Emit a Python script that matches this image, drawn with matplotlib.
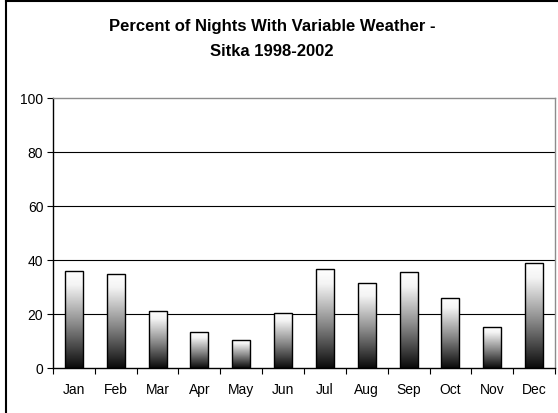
import numpy as np
import matplotlib
matplotlib.use("Agg")
import matplotlib.pyplot as plt
from matplotlib.colors import LinearSegmentedColormap

months = ["Jan", "Feb", "Mar", "Apr", "May", "Jun",
          "Jul", "Aug", "Sep", "Oct", "Nov", "Dec"]
percent = [36.0, 34.9, 21.2, 13.2, 10.5, 20.5,
           36.5, 31.4, 35.4, 26.0, 15.3, 38.9]
yticks = [0, 20, 40, 60, 80, 100]

plt.rcParams['font.family'] = ['Liberation Sans', 'DejaVu Sans']

fig = plt.figure(figsize=(5.58, 4.14), dpi=100)
ax = fig.add_axes([53 / 558, 1 - 369 / 414, (555 - 53) / 558, (369 - 99) / 414])

# outer chart border (left and top visible only)
fig.add_artist(plt.Line2D([6 / 558, 6 / 558], [0, 1 - 2 / 414], color="black", lw=1.5,
                          transform=fig.transFigure))
fig.add_artist(plt.Line2D([6 / 558, 1], [1 - 2 / 414, 1 - 2 / 414], color="black", lw=1.5,
                          transform=fig.transFigure))

cmap = LinearSegmentedColormap.from_list("bw", [(0, "#0a0a0a"), (0.45, "#8a8a8a"),
                                                (0.85, "#f4f4f4"), (1, "#ffffff")])
grad = np.linspace(0, 1, 256).reshape(-1, 1)

x = np.arange(len(months))
width = 0.43
bars = ax.bar(x, percent, width=width, facecolor="none", edgecolor="black",
              linewidth=1.0, zorder=3)
for b in bars:
    x0, h = b.get_x(), b.get_height()
    ax.imshow(grad, extent=(x0, x0 + width, 0, h), origin="lower",
              aspect="auto", cmap=cmap, zorder=2)

ax.set_xlim(-0.5, len(months) - 0.5)
ax.set_ylim(0, 100)
ax.set_yticks(yticks)
ax.tick_params(axis="y", length=4, width=0.8, labelsize=10, pad=3)

ax.set_xticks(x)
ax.set_xticklabels(months, fontsize=10)
ax.tick_params(axis="x", length=0, pad=10)
ax.set_xticks(np.arange(-0.5, len(months)), minor=True)
ax.tick_params(axis="x", which="minor", length=4, width=0.8, direction="out")

for v in yticks[1:-1]:
    ax.axhline(v, color="black", lw=0.8, zorder=1)

ax.spines["left"].set_color("black")
ax.spines["bottom"].set_color("black")
ax.spines["top"].set_color("#8c8c8c")
ax.spines["right"].set_color("#8c8c8c")
for s in ax.spines.values():
    s.set_linewidth(1.0)

fig.text(272 / 558, 1 - 27 / 414, "Percent of Nights With Variable Weather -",
         ha="center", va="center", fontsize=12, fontweight="bold")
fig.text(272 / 558, 1 - 52 / 414, "Sitka 1998-2002",
         ha="center", va="center", fontsize=12, fontweight="bold")

fig.savefig("out.png", dpi=100)
